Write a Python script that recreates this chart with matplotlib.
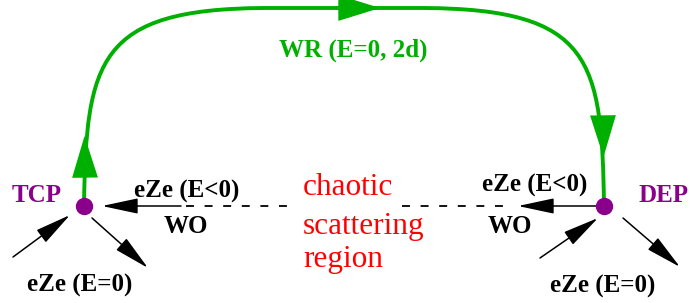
import matplotlib
matplotlib.use('Agg')
import matplotlib.pyplot as plt
from matplotlib.path import Path
from matplotlib.patches import PathPatch

# 节点 (像素坐标, y 向下)
node_names = ['TCP', 'DEP']
node_x = [84, 604]
node_y = [206, 206]
node_label_x = [37, 664]
node_label_y = [202, 202]

# 绿色 WR 轨道
wr_label = 'WR (E=0, 2d)'
wr_top = 8
wr_label_pos = (353, 57)

# 黑色箭头标签
ezs_neg = ['eZe (E<0)', 'eZe (E<0)']
ezs_neg_pos = [(187, 198), (535, 192)]
wo_pos = [(186, 233), (510, 233)]
ezs_zero = ['eZe (E=0)', 'eZe (E=0)']
ezs_zero_pos = [(80, 292), (603, 293)]

# 中间红字
region_lines = ['chaotic', 'scattering', 'region']
region_x = 303
region_base = [195, 234, 267]

purple = '#8b008b'
green = '#00b000'
serif = ['Liberation Serif', 'DejaVu Serif']

fig = plt.figure(figsize=(6.9, 3.03), dpi=100)
ax = fig.add_axes([0, 0, 1, 1])
ax.set_xlim(0, 690)
ax.set_ylim(303, 0)
ax.axis('off')

# 绿色轨道
x0, x1 = node_x
y0, y1 = node_y
verts = [(x0, y0), (x0 + 2, 60), (x0 + 14, wr_top + 1), (x0 + 180, wr_top),
         (x1 - 180, wr_top),
         (x1 - 12, wr_top + 1), (x1 - 2, 60), (x1, y1)]
codes = [Path.MOVETO, Path.CURVE4, Path.CURVE4, Path.CURVE4,
         Path.LINETO,
         Path.CURVE4, Path.CURVE4, Path.CURVE4]
ax.add_patch(PathPatch(Path(verts, codes), fill=False, ec=green, lw=2.8,
                       capstyle='butt'))

gstyle = '-|>,head_length=1.0,head_width=0.31'
green_heads = [((x0 + 0.5, 136), (x0 + 1, 175)), ((380, wr_top), (335, wr_top)),
               ((x1 - 0.5, 157), (x1 - 1, 118))]
for tip, tail in green_heads:
    ax.annotate('', xy=tip, xytext=tail,
                arrowprops=dict(arrowstyle=gstyle, mutation_scale=30,
                                color=green, lw=0, shrinkA=0, shrinkB=0))

# 黑色箭头
bstyle = '-|>,head_length=0.75,head_width=0.16'
black_arrows = [((70, 215), (13, 257)), ((148, 268), (92, 218)),
                ((598, 218), (540, 258)), ((680, 267), (623, 218)),
                ((102, 206), (181, 206)), ((518, 206), (597, 206))]
for tip, tail in black_arrows:
    ax.annotate('', xy=tip, xytext=tail,
                arrowprops=dict(arrowstyle=bstyle, mutation_scale=30,
                                color='black', lw=1.1, shrinkA=0, shrinkB=0))

# 虚线
for xa, xb in [(186, 297), (402, 512)]:
    ax.plot([xa, xb], [206, 206], color='black', lw=1.3, ls=(0, (4.4, 5.9)))

# 节点
ax.plot(node_x, node_y, 'o', color=purple, ms=11.5, zorder=5)
for name, lx, ly in zip(node_names, node_label_x, node_label_y):
    ax.text(lx, ly, name, color=purple, fontsize=18, fontweight='bold',
            family=serif, ha='center', va='baseline')

ax.text(wr_label_pos[0], wr_label_pos[1], wr_label, color=green, fontsize=18,
        fontweight='bold', family=serif, ha='center', va='baseline')

for txt, (tx, ty) in zip(ezs_neg, ezs_neg_pos):
    ax.text(tx, ty, txt, fontsize=18, fontweight='bold', family=serif,
            ha='center', va='baseline')
for tx, ty in wo_pos:
    ax.text(tx, ty, 'WO', fontsize=18, fontweight='bold', family=serif,
            ha='center', va='baseline')
for txt, (tx, ty) in zip(ezs_zero, ezs_zero_pos):
    ax.text(tx, ty, txt, fontsize=18, fontweight='bold', family=serif,
            ha='center', va='baseline')

for line, by in zip(region_lines, region_base):
    ax.text(region_x, by, line, color='red', fontsize=22.5, family=serif,
            ha='left', va='baseline')

fig.savefig('out.png', dpi=100)
